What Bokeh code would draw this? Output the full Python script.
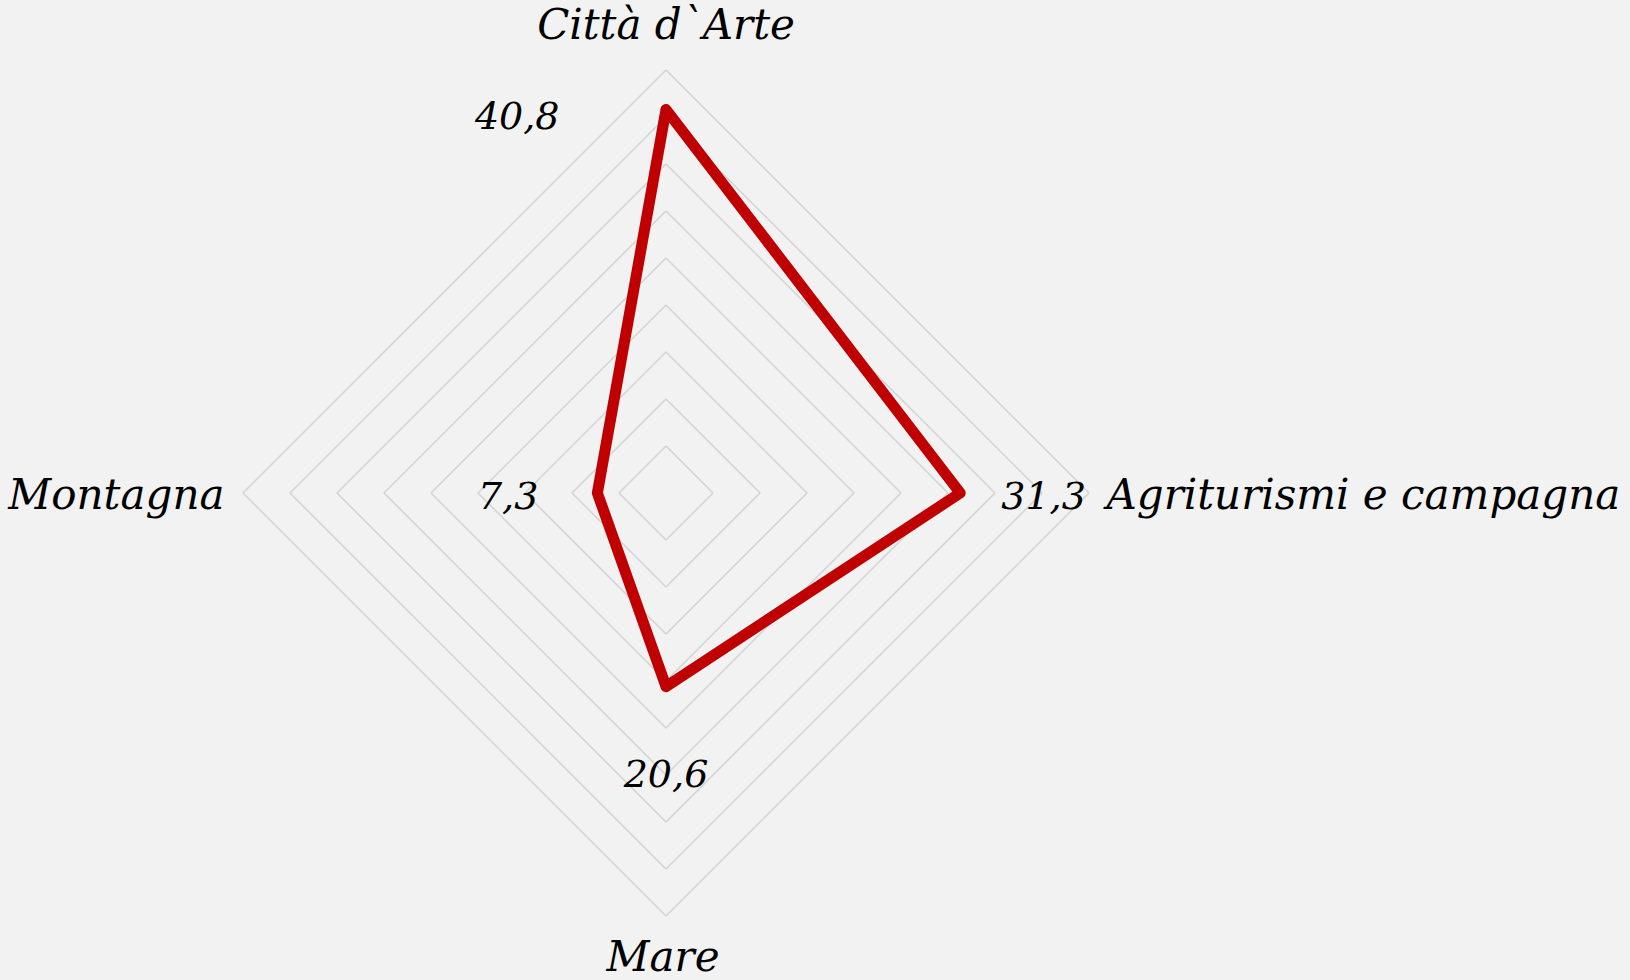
import math
from bokeh.plotting import figure
from bokeh.models import Range1d
from bokeh.embed import file_html
from bokeh.resources import INLINE
from bokeh.core.properties import value

# ---- data ----
categories = ["Città d`Arte", "Agriturismi e campagna", "Mare", "Montagna"]
values = [40.8, 31.3, 20.6, 7.3]
value_labels = ["40,8", "31,3", "20,6", "7,3"]
ring_levels = [5, 10, 15, 20, 25, 30, 35, 40, 45]

# ---- layout ----
W, H = 1630, 980
CX, CY = 665.5, 492.5          # radar centre, pixels from top-left
R_PX = 423.0                   # pixel radius of outer ring
R_MAX = ring_levels[-1]
S = R_PX / R_MAX
FONT = value("DejaVu Serif")
CAT_FS = 42
VAL_FS = 38

p = figure(width=W, height=H,
           x_range=Range1d(-CX / S, (W - CX) / S),
           y_range=Range1d(-(H - CY) / S, CY / S),
           output_backend="svg", toolbar_location=None, min_border=0,
           x_axis_type=None, y_axis_type=None,
           background_fill_color="#f2f2f2", border_fill_color="#f2f2f2",
           outline_line_color=None)
p.grid.visible = False

n = len(categories)
ang = [math.pi / 2 - i * 2 * math.pi / n for i in range(n)]
dx = [round(math.cos(a), 12) for a in ang]
dy = [round(math.sin(a), 12) for a in ang]

# grid rings
p.patches([[r * c for c in dx] for r in ring_levels],
          [[r * s for s in dy] for r in ring_levels],
          fill_color=None, line_color="#d3d3d3", line_width=1.5)

# data polygon
px = [v * c for v, c in zip(values, dx)]
py = [v * s for v, s in zip(values, dy)]
p.patch(px, py, fill_color=None, line_color="#c00000", line_width=11,
        line_join="round")

# value labels (offsets in screen px, baseline positions)
val_off = [(-106.5, 19, "right"), (41, 15.5, "left"), (0, 99, "center"), (-59, 15.5, "right")]
for i in range(n):
    ox, oy, al = val_off[i]
    p.text([px[i]], [py[i]], text=[value_labels[i]], x_offset=ox,
           y_offset=oy - 0.33 * VAL_FS,
           text_align=al, text_baseline="alphabetic", text_font=FONT,
           text_font_style="italic", text_font_size=f"{VAL_FS}px", text_color="#000000")

# category labels
cat_off = [(0, -32, "center"), (17.5, 15.5, "left"), (-3, 54, "center"), (-18.5, 15.5, "right")]
for i in range(n):
    ox, oy, al = cat_off[i]
    p.text([R_MAX * dx[i]], [R_MAX * dy[i]], text=[categories[i]], x_offset=ox,
           y_offset=oy - 0.33 * CAT_FS,
           text_align=al, text_baseline="alphabetic", text_font=FONT,
           text_font_style="italic", text_font_size=f"{CAT_FS}px", text_color="#000000")

html = file_html(p, INLINE)
html = html.replace("</head>",
                    "<style>html,body{margin:0;padding:0;overflow:hidden;background:#f2f2f2;}</style></head>", 1)
open("out.html", "w").write(html)
